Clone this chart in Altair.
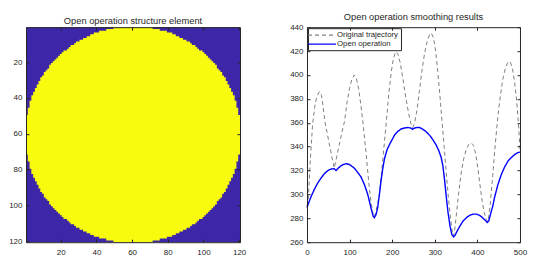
import altair as alt
import pandas as pd

# ---------------- data ----------------
# half-width (in pixels) of the yellow disk for image rows 1..60 (rows 61..120 mirror)
disk_half_widths_top = [11, 15, 19, 22, 24, 26, 28, 30, 32, 33, 35, 36, 37, 39, 40, 41, 42, 43, 44, 45,
                        46, 47, 47, 48, 49, 50, 50, 51, 52, 52, 53, 53, 54, 54, 55, 55, 56, 56, 57, 57,
                        57, 58, 58, 58, 58, 59, 59, 59, 59, 60, 60, 60, 60, 60, 60, 60, 60, 60, 60, 60]
disk_half_widths = disk_half_widths_top + disk_half_widths_top[::-1]
disk_center = 60.5
img_ticks = [20, 40, 60, 80, 100, 120]

orig_x = [0, 3, 8, 13, 18, 23, 29, 34, 38, 42, 47, 52, 58, 64, 70, 76, 82, 88, 94, 100,
          105, 111, 116, 121, 126, 131, 138, 145, 150, 155, 158, 162, 166, 170, 175, 180, 186, 192, 198, 203,
          208, 213, 219, 225, 232, 238, 244, 248, 252, 258, 264, 270, 276, 282, 288, 292, 297, 302, 307, 312,
          317, 322, 327, 332, 337, 341, 343, 346, 350, 356, 362, 368, 374, 380, 386, 391, 396, 401, 406, 411,
          416, 421, 425, 430, 436, 442, 448, 454, 460, 466, 472, 477, 482, 487, 492, 496, 500]
orig_y = [290, 296, 330, 358, 373, 382, 386, 383, 373, 361, 352, 343, 332, 322, 332, 342, 352, 361, 377, 389,
          396, 400, 397, 389, 376, 361, 337, 310, 294, 284, 281, 286, 293, 300, 318, 337, 360, 384, 403, 414,
          419.5, 418, 410, 397, 381, 369, 359, 356, 359, 370, 387, 404, 418, 428, 434, 435, 431, 420, 403, 383,
          361, 340, 318, 297, 280, 269, 265, 268, 281, 301, 318, 330, 338, 342, 343, 341, 334, 322, 308, 295,
          285, 279, 277, 291, 316, 342, 365, 383, 397, 406, 411, 411, 406, 395, 379, 361, 338]

open_x = [0, 5, 10, 17, 25, 33, 41, 49, 57, 64, 68, 72, 78, 85, 92, 100, 111, 120, 127, 135,
          143, 150, 155, 158, 162, 166, 170, 174, 178, 182, 188, 194, 200, 206, 214, 221, 230, 237, 244, 248,
          252, 258, 264, 270, 278, 284, 290, 296, 303, 309, 315, 319, 323, 327, 331, 336, 340, 344, 348, 352,
          358, 366, 374, 382, 390, 398, 405, 412, 418, 423, 427, 432, 436, 440, 448, 456, 464, 472, 480, 488,
          495, 500]
open_y = [289, 294, 298.5, 304, 309.5, 313.7, 317.5, 320, 321.3, 321.5, 320, 321.5, 323.5, 325, 325.7, 325, 322, 318, 314.5, 308,
          299.5, 289, 282, 280.5, 283, 289, 300, 312, 322, 330, 337.5, 342, 346, 350, 353, 354.8, 355.7, 356, 355.5, 354.5,
          355.5, 356, 356, 355, 353, 351, 348.5, 345.5, 341.5, 337, 331, 324, 312, 298, 285, 273, 266.5, 264.5, 266, 269,
          273, 277.5, 280.5, 282.5, 283.5, 283.5, 282.5, 280.5, 278.5, 276.5, 278, 285, 290, 297, 308, 316.5, 323, 328, 331, 333.5,
          335, 335.5]

series_names = ["Original trajectory", "Open operation"]
x_ticks = [0, 100, 200, 300, 400, 500]
y_ticks = [260, 280, 300, 320, 340, 360, 380, 400, 420, 440]

# ---------------- style ----------------
AX = "#262626"
BG_BLUE = "#3E26A8"
YELLOW = "#F9FB0E"
FONT = "Liberation Sans"
W1, H1 = 214, 215
W2, H2 = 213, 215


def main_axes(xv, yv):
    xa = alt.Axis(values=xv, orient="bottom", title=None, ticks=False, labelPadding=6,
                  domain=True, domainColor=AX, domainWidth=1, zindex=3, labelFlush=False,
                  labelOverlap=False, grid=False)
    ya = alt.Axis(values=yv, orient="left", title=None, ticks=False, labelPadding=4,
                  domain=True, domainColor=AX, domainWidth=1, zindex=3, labelFlush=False,
                  labelOverlap=False, grid=False)
    return xa, ya


def inner_axes_a(xv, yv, W, H):
    # ticks on bottom & left edges, pointing into the plot
    xa = alt.Axis(values=xv, orient="top", offset=-H, title=None, labels=False, domain=False,
                  ticks=True, tickSize=3, tickColor=AX, tickWidth=1, zindex=3, grid=False)
    ya = alt.Axis(values=yv, orient="right", offset=-W, title=None, labels=False, domain=False,
                  ticks=True, tickSize=3, tickColor=AX, tickWidth=1, zindex=3, grid=False)
    return xa, ya


def inner_axes_b(xv, yv, W, H):
    # ticks + box line on top & right edges, pointing into the plot
    xa = alt.Axis(values=xv, orient="bottom", offset=-H, title=None, labels=False, domain=True,
                  domainColor=AX, domainWidth=1, ticks=True, tickSize=3, tickColor=AX, tickWidth=1,
                  zindex=3, grid=False)
    ya = alt.Axis(values=yv, orient="left", offset=-W, title=None, labels=False, domain=True,
                  domainColor=AX, domainWidth=1, ticks=True, tickSize=3, tickColor=AX, tickWidth=1,
                  zindex=3, grid=False)
    return xa, ya


# ---------------- left panel: structure element ----------------
n_img = len(disk_half_widths)
# one staircase outline: top edge of every row, plus the bottom edge of the last row
edges = [r - 0.5 for r in range(1, n_img + 1)] + [n_img + 0.5]
halfs = disk_half_widths + [disk_half_widths[-1]]
disk_df = pd.DataFrame({
    "edge": edges,
    "c0": [disk_center - c for c in halfs],
    "c1": [disk_center + c for c in halfs],
})
xs1 = alt.Scale(domain=[0.5, n_img + 0.5], nice=False, zero=False)
ys1 = alt.Scale(domain=[0.5, n_img + 0.5], nice=False, zero=False, reverse=True)


def disk_layer(axes, opacity):
    xa, ya = axes
    return alt.Chart(disk_df).mark_area(orient="horizontal", interpolate="step-before",
                                        color=YELLOW, opacity=opacity).encode(
        y=alt.Y("edge:Q", scale=ys1, axis=ya),
        x=alt.X("c0:Q", scale=xs1, axis=xa),
        x2="c1:Q",
    )


left = alt.layer(
    disk_layer(main_axes(img_ticks, img_ticks), 1),
    disk_layer(inner_axes_a(img_ticks, img_ticks, W1, H1), 0),
    disk_layer(inner_axes_b(img_ticks, img_ticks, W1, H1), 0),
).resolve_axis(x="independent", y="independent").properties(
    width=W1, height=H1, title="Open operation structure element",
    view=alt.ViewBackground(fill=BG_BLUE, stroke=None),
)

# ---------------- right panel: smoothing results ----------------
line_df = pd.DataFrame({
    "x": orig_x + open_x,
    "y": orig_y + open_y,
    "series": [series_names[0]] * len(orig_x) + [series_names[1]] * len(open_x),
})
xs2 = alt.Scale(domain=[x_ticks[0], x_ticks[-1]], nice=False, zero=False)
ys2 = alt.Scale(domain=[y_ticks[0], y_ticks[-1]], nice=False, zero=False)

leg = alt.Legend(title=None, orient="top-left", offset=1, fillColor="white", strokeColor=AX,
                 padding=2, labelFont=FONT, labelFontSize=7.8, labelColor=AX,
                 symbolType="M-3.5,0H3.5", symbolSize=64, symbolOffset=7, labelOffset=10,
                 rowPadding=0, symbolStrokeWidth=1.2)

xa, ya = main_axes(x_ticks, y_ticks)
line = alt.Chart(line_df).mark_line().encode(
    x=alt.X("x:Q", scale=xs2, axis=xa),
    y=alt.Y("y:Q", scale=ys2, axis=ya),
    color=alt.Color("series:N", scale=alt.Scale(domain=series_names, range=["#808080", "#0000FF"]),
                    legend=leg),
    strokeDash=alt.StrokeDash("series:N", scale=alt.Scale(domain=series_names, range=[[4, 3], [1, 0]]),
                              legend=leg),
    strokeWidth=alt.condition(alt.datum.series == series_names[1], alt.value(1.4), alt.value(1)),
)


def pts_layer(axes):
    xa_, ya_ = axes
    return alt.Chart(line_df).mark_point(opacity=0).encode(
        x=alt.X("x:Q", scale=xs2, axis=xa_),
        y=alt.Y("y:Q", scale=ys2, axis=ya_),
    )


right = alt.layer(
    line,
    pts_layer(inner_axes_a(x_ticks, y_ticks, W2, H2)),
    pts_layer(inner_axes_b(x_ticks, y_ticks, W2, H2)),
).resolve_axis(x="independent", y="independent").properties(
    width=W2, height=H2, title="Open operation smoothing results",
)

chart = alt.hconcat(left, right, spacing=43).resolve_legend(
    color="independent", strokeDash="independent"
).resolve_scale(color="independent", strokeDash="independent").properties(
    padding={"left": 0, "top": 4.2, "right": 4, "bottom": 4},
    background="white",
).configure_axis(
    labelFont=FONT, labelFontSize=8, labelColor=AX, minExtent=0, grid=False,
).configure_view(stroke=None).configure_title(
    font=FONT, fontSize=9.3, fontWeight="normal", color=AX, offset=0.8, anchor="middle",
)

chart.save("out.html", embed_options={"renderer": "svg", "actions": False})
